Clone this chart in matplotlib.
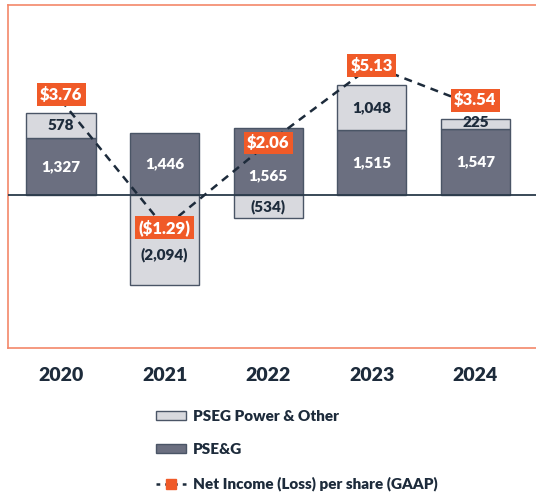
import matplotlib
matplotlib.use("Agg")
import matplotlib.pyplot as plt
from matplotlib.patches import Patch
from matplotlib.lines import Line2D

# data (millions $ / $ per share)
years = ["2020", "2021", "2022", "2023", "2024"]
pseg_power_other = [578, -2094, -534, 1048, 225]
pse_g = [1327, 1446, 1565, 1515, 1547]
eps = [3.76, -1.29, 2.06, 5.13, 3.54]

NAVY = "#1d2b3b"
DARK = "#6b6f80"
LIGHT = "#d8d9de"
EDGE = "#4a5566"
ORANGE = "#f05a28"
FRAME = "#f4876a"
WT = "heavy"

plt.rcParams["font.family"] = ["Lato", "DejaVu Sans"]
plt.rcParams["font.weight"] = WT

fig = plt.figure(figsize=(5.36, 4.98), dpi=100)
ax = fig.add_axes([8 / 536, 1 - 348 / 498, 537 / 536, 343 / 498])

x = list(range(len(years)))
w = 0.667

# stacked bars: PSE&G from zero, Power & Other on top (or below zero if negative)
ax.bar(x, pse_g, w, color=DARK, edgecolor=EDGE, lw=1, zorder=2)
bottoms = [p if v > 0 else 0 for p, v in zip(pse_g, pseg_power_other)]
ax.bar(x, pseg_power_other, w, bottom=bottoms, color=LIGHT, edgecolor=EDGE,
       lw=1, zorder=2)
ax.axhline(0, color="#2a3a4a", lw=1.3, zorder=3)


def fmt(v):
    s = f"{abs(v):,}"
    return f"({s})" if v < 0 else s


# nudges (points) so value labels clear the EPS boxes
dark_nudge = {2: -10}
light_nudge = {1: -11, 4: 1}

for i in x:
    ax.annotate(fmt(pse_g[i]), (i, pse_g[i] / 2), xytext=(0, dark_nudge.get(i, 0)),
                textcoords="offset points", ha="center", va="center",
                color="white", fontsize=11, fontweight=WT, zorder=4)
    yc = bottoms[i] + pseg_power_other[i] / 2
    ax.annotate(fmt(pseg_power_other[i]), (i, yc), xytext=(0, light_nudge.get(i, 0)),
                textcoords="offset points", ha="center", va="center",
                color=NAVY, fontsize=11, fontweight=WT, zorder=4)

ax.set_xlim(-0.512, 4.672)
ax.set_ylim(-3575, 4439)
ax.set_yticks([])
ax.set_xticks(x)
ax.set_xticklabels(years, fontsize=14, fontweight=WT, color=NAVY)
ax.tick_params(axis="x", length=0, pad=14)
for sp in ax.spines.values():
    sp.set_color(FRAME)
    sp.set_linewidth(1.2)

# EPS line on secondary axis, zero aligned with primary
ax2 = ax.twinx()
ax2.set_ylim(-6.07, 7.54)
ax2.set_yticks([])
for sp in ax2.spines.values():
    sp.set_visible(False)
ax2.plot(x, eps, ls=(0, (3.2, 2.4)), color=NAVY, lw=1.8, marker="s",
         ms=6, mfc=ORANGE, mec=ORANGE, zorder=5)

eps_nudge = {0: 4, 4: 4}
for i, v in enumerate(eps):
    s = f"${abs(v):.2f}"
    if v < 0:
        s = f"({s})"
    ax2.annotate(s, (i, v), xytext=(0, eps_nudge.get(i, 0)), textcoords="offset points",
                 ha="center", va="center", color="white", fontsize=12,
                 fontweight=WT, zorder=6,
                 bbox=dict(boxstyle="square,pad=0.2", fc=ORANGE, ec="none"))

handles = [
    Patch(fc=LIGHT, ec=EDGE, lw=1),
    Patch(fc=DARK, ec=EDGE, lw=1),
    Line2D([], [], ls=(0, (1.5, 2)), color=NAVY, lw=1.8, marker="s", ms=7,
           mfc=ORANGE, mec=ORANGE),
]
labels = ["PSEG Power & Other", "PSE&G", "Net Income (Loss) per share (GAAP)"]
fig.legend(handles, labels, loc="upper left", bbox_to_anchor=(148 / 536, 1 - 402 / 498),
           frameon=False, prop={"weight": WT, "size": 11},
           handlelength=2.0, handleheight=0.55, handletextpad=0.45,
           labelspacing=1.35, borderpad=0, labelcolor=NAVY)

fig.savefig("out.png", dpi=100)
plt.close(fig)
